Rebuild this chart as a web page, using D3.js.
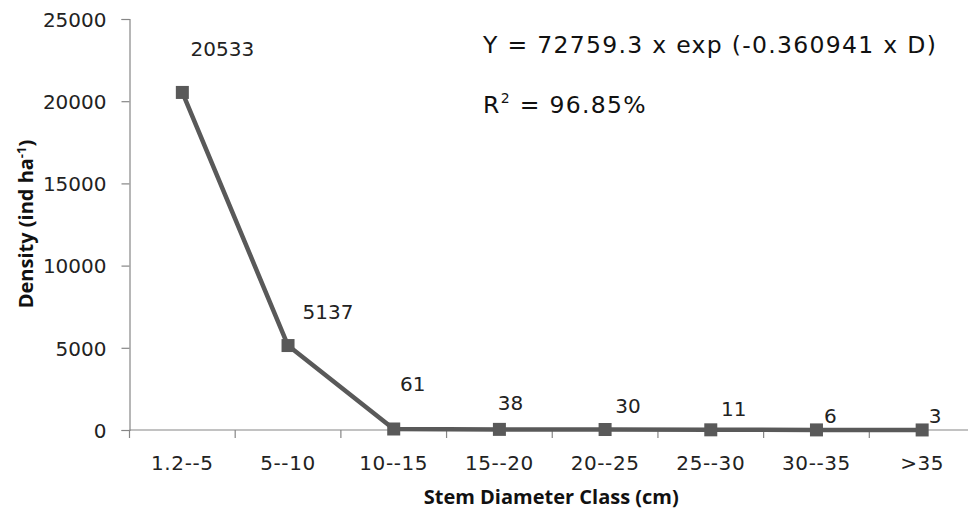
<!DOCTYPE html>
<html>
<head>
<meta charset="utf-8">
<script src="https://cdn.jsdelivr.net/npm/d3@7/dist/d3.min.js"></script>
<style>
  html, body { margin: 0; padding: 0; background: #fff; }
  svg { display: block; }
</style>
</head>
<body>
<svg id="chart" width="968" height="510"></svg>
<script>
// ---- Data ----
const categories = ["1.2--5", "5--10", "10--15", "15--20", "20--25", "25--30", "30--35", ">35"];
const densities = [20533, 5137, 61, 38, 30, 11, 6, 3];
const yTicks = [0, 5000, 10000, 15000, 20000, 25000];
const equationText = "Y = 72759.3 x exp (-0.360941 x D)";
const r2Value = "96.85%";
// label offsets (px) relative to each point, as placed in the source figure
const labelDx = [40, 40, 19, 11, 23, 23, 14, 13];
const labelDy = [-44, -34, -45, -27, -24, -21, -14, -14];

(function () {
// ---- Layout ----
const svg = d3.select("#chart");
const mLeft = 129.5, mRight = 975, mTop = 19, mBottom = 430;
const lineColor = "#595959";
const axisColor = "#868686";
const tickFont = "'DejaVu Sans', Verdana, sans-serif";
const titleFont = "'Open Sans', Lato, sans-serif";
const tickSize = 20;

const x = d3.scaleBand().domain(categories).range([mLeft, mRight]);
const y = d3.scaleLinear().domain([0, 25000]).range([mBottom, mTop]);

// Y axis
const yAxis = svg.append("g")
  .attr("transform", `translate(${mLeft},0)`)
  .call(d3.axisLeft(y).tickValues(yTicks).tickSize(8).tickPadding(15).tickFormat(d3.format("d")));
yAxis.select(".domain").attr("stroke", axisColor).attr("stroke-width", 1.2);
yAxis.selectAll(".tick line").attr("stroke", axisColor).attr("stroke-width", 1.2);
yAxis.selectAll(".tick text")
  .attr("font-family", tickFont).attr("font-size", tickSize).attr("fill", "#222")
  .attr("dy", "0.36em");

// X axis (ticks at band boundaries)
const xAxisG = svg.append("g").attr("transform", `translate(0,${mBottom})`);
xAxisG.append("line")
  .attr("x1", mLeft).attr("x2", mRight).attr("y1", 0).attr("y2", 0)
  .attr("stroke", axisColor).attr("stroke-width", 1.2);
const boundaries = categories.map(c => x(c)).concat([x.range()[1]]);
xAxisG.selectAll("line.tk").data(boundaries).enter().append("line")
  .attr("class", "tk")
  .attr("x1", d => d).attr("x2", d => d).attr("y1", 0).attr("y2", 8)
  .attr("stroke", axisColor).attr("stroke-width", 1.2);
xAxisG.selectAll("text.lbl").data(categories).enter().append("text")
  .attr("class", "lbl")
  .attr("x", d => x(d) + x.bandwidth() / 2)
  .attr("y", 40)
  .attr("text-anchor", "middle")
  .attr("font-family", tickFont).attr("font-size", tickSize).attr("fill", "#222")
  .attr("letter-spacing", 0.6)
  .text(d => d);

// Line
const pts = categories.map((c, i) => ({ c, v: densities[i], i }));
const line = d3.line().x(d => x(d.c) + x.bandwidth() / 2).y(d => y(d.v));
svg.append("path").datum(pts)
  .attr("d", line)
  .attr("fill", "none")
  .attr("stroke", lineColor)
  .attr("stroke-width", 4.5)
  .attr("stroke-linejoin", "round");

// Markers
const ms = 13;
svg.selectAll("rect.mk").data(pts).enter().append("rect")
  .attr("class", "mk")
  .attr("x", d => x(d.c) + x.bandwidth() / 2 - ms / 2)
  .attr("y", d => y(d.v) - ms / 2)
  .attr("width", ms).attr("height", ms)
  .attr("fill", lineColor);

// Data labels
svg.selectAll("text.dl").data(pts).enter().append("text")
  .attr("class", "dl")
  .attr("x", d => x(d.c) + x.bandwidth() / 2 + labelDx[d.i])
  .attr("y", d => y(d.v) + labelDy[d.i])
  .attr("dy", "0.36em")
  .attr("text-anchor", "middle")
  .attr("font-family", tickFont).attr("font-size", tickSize).attr("fill", "#222")
  .text(d => d.v);

// Equation
svg.append("text")
  .attr("x", 483).attr("y", 53)
  .attr("font-family", tickFont).attr("font-size", 23.5).attr("fill", "#111")
  .attr("letter-spacing", 1.3)
  .text(equationText);
const r2 = svg.append("text")
  .attr("x", 483).attr("y", 113)
  .attr("font-family", tickFont).attr("font-size", 23.5).attr("fill", "#111")
  .attr("letter-spacing", 1.3);
r2.append("tspan").text("R");
r2.append("tspan").attr("dy", -10).attr("font-size", 14).text("2");
r2.append("tspan").attr("dy", 10).text(" = " + r2Value);

// Axis titles
svg.append("text")
  .attr("x", (mLeft + mRight) / 2 - 1).attr("y", 503.5)
  .attr("text-anchor", "middle")
  .attr("font-family", titleFont).attr("font-weight", "bold").attr("font-size", 20).attr("fill", "#111")
  .text("Stem Diameter Class (cm)");

const yt = svg.append("text")
  .attr("transform", `translate(33,224) rotate(-90)`)
  .attr("text-anchor", "middle")
  .attr("font-family", titleFont).attr("font-weight", "bold").attr("font-size", 20).attr("fill", "#111");
yt.append("tspan").text("Density (ind ha");
yt.append("tspan").attr("dy", -7).attr("font-size", 13).text("-1");
yt.append("tspan").attr("dy", 7).text(")");
})();
</script>
</body>
</html>
